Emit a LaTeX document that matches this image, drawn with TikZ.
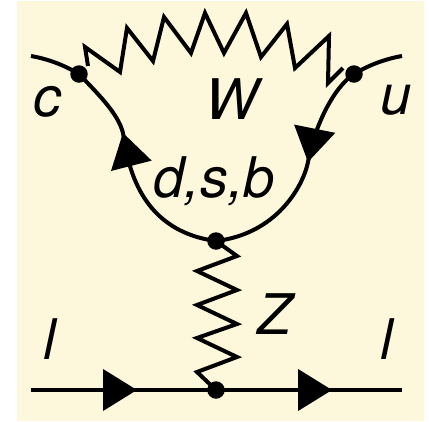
\documentclass[tikz,border=0pt]{standalone}
\usepackage{fontspec}
\setmainfont{TeX Gyre Heros}
\usetikzlibrary{arrows.meta,decorations.markings}
\definecolor{paperbg}{RGB}{253,247,219}

\begin{document}
\begin{tikzpicture}[x=1pt, y=-1pt,
    wire/.style={line width=4pt, black},
    boson/.style={line width=4pt, black, miter limit=10},
    vertex/.style={circle, fill=black, inner sep=0pt, minimum size=17.5pt},
    lbl/.style={inner sep=0pt, font=\fontsize{56}{56}\selectfont\itshape},
    flow/.style={postaction={decorate}, decoration={markings, mark=at position #1 with {\arrow{Triangle[length=34pt, width=41pt]}}}}
  ]
  \useasboundingbox (0,0) rectangle (429,421);
  \fill[paperbg] (17,1) rectangle (424,421);

  % Vertices
  \node[vertex] (vc) at (79,74) {};
  \node[vertex] (vu) at (354,74) {};
  \node[vertex] (vloop) at (216,241) {};
  \node[vertex] (vlep) at (216,390) {};
  \coordinate (cin) at (31,56);
  \coordinate (uout) at (402,56);
  \coordinate (lin) at (31,390);
  \coordinate (lout) at (402,390);

  % Quark lines
  \draw[wire] (cin) .. controls (48,59) and (64,65) .. (vc.center);
  \draw[wire] (uout) .. controls (385,59) and (369,65) .. (vu.center);
  \draw[wire, flow=0.677] (vloop.center) .. controls (134,230) and (127,155) .. (123,133)
    .. controls (118,113) and (97,93) .. (vc.center);
  \draw[wire, flow=0.44] (vu.center) .. controls (330,90) and (312.4,135) .. (308,162)
    .. controls (303,187) and (276,234) .. (vloop.center);

  % Lepton line
  \draw[wire, flow=0.573] (lin) -- (vlep.center);
  \draw[wire, flow=0.624] (vlep.center) -- (lout);

  % W boson
  \draw[boson] (88,66) -- (85,47) -- (120,72) -- (127,28) -- (153,61) -- (164,17)
    -- (191,53) -- (205,13) -- (224,53) -- (246,13) -- (261,57) -- (287,24)
    -- (295,68) -- (329,36) -- (328,83) -- (343,68);

  % Z boson
  \draw[boson] (vloop.center) -- (237,256) -- (197,271) -- (237,290) -- (197,305)
    -- (237,324) -- (197,338) -- (237,357) -- (197,372) -- (vlep.center);

  % Labels
  \node[lbl] (lc) at (48,102) {c};
  \node[lbl] (lw) at (232,99) {W};
  \node[lbl] (lu) at (396,100) {u};
  \node[lbl] (ldsb) at (214,181) {d,s,b};
  \node[lbl] (lz) at (275,314) {Z};
  \node[lbl] (ll) at (50,339) {l};
  \node[lbl] (lr) at (387,339) {l};
\end{tikzpicture}
\end{document}
